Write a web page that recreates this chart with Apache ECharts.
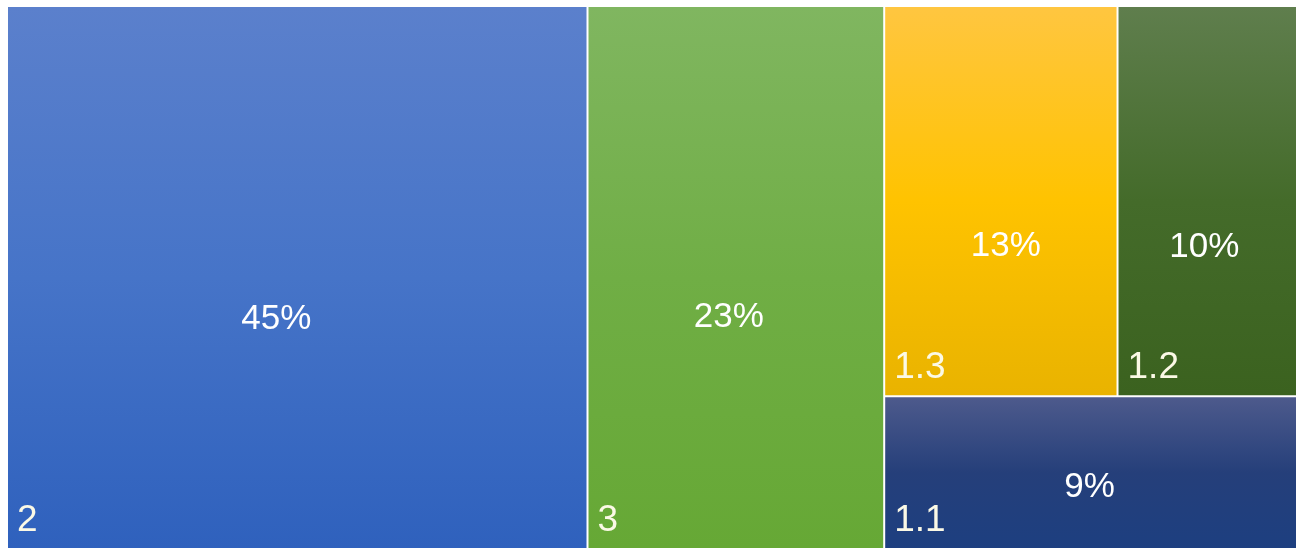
<!DOCTYPE html>
<html>
<head>
<meta charset="utf-8">
<script src="https://cdn.jsdelivr.net/npm/echarts@6/dist/echarts.min.js"></script>
<style>
html,body{margin:0;padding:0;background:#fff;}
#chart{width:1296px;height:548px;}
</style>
</head>
<body>
<div id="chart"></div>
<script>
// ---- data ----
const names   = ['2', '3', '1.3', '1.2', '1.1'];
const values  = [45, 23, 13, 10, 9];
const parents = [null, null, '1', '1', '1'];
const groupOrder = ['2', '3', '1'];

// ---- styles ----
const grad = (stops) => ({type: 'linear', x: 0, y: 0, x2: 0, y2: 1,
  colorStops: stops.map((c, i) => ({offset: i / (stops.length - 1), color: c}))});
const fills = {
  '2':   grad(['#5b80cc', '#4674c8', '#2f61bd']),
  '3':   grad(['#80b660', '#70ae45', '#66a835']),
  '1.3': grad(['#ffc640', '#ffc300', '#e9b300']),
  '1.2': grad(['#5f7e4d', '#446b2a', '#3b621f']),
  '1.1': grad(['#4d5a8c', '#253f7a', '#1d3f80'])
};
const pctOffset = {
  '2': [-21, 42], '3': [-7, 40], '1.3': [5, 45], '1.2': [-3, 46], '1.1': [-1, 15]
};

function buildTree(withStyle) {
  const nodes = {};
  const top = [];
  groupOrder.forEach(g => {
    const idx = names.indexOf(g);
    if (idx >= 0) {
      nodes[g] = {name: g, value: values[idx]};
    } else {
      nodes[g] = {name: g, children: []};
    }
    top.push(nodes[g]);
  });
  names.forEach((n, i) => {
    if (parents[i]) {
      const leaf = {name: n, value: values[i]};
      nodes[parents[i]].children.push(leaf);
    }
  });
  function decorate(node) {
    if (node.children) {
      node.value = node.children.reduce((s, c) => s + c.value, 0);
      node.children.forEach(decorate);
      return;
    }
    if (withStyle) {
      node.itemStyle = {color: fills[node.name]};
      node.label = {offset: pctOffset[node.name]};
    }
  }
  top.forEach(decorate);
  return top;
}

const baseSeries = {
  type: 'treemap',
  left: 8, top: 7, right: 0, bottom: 0,
  sort: false,
  squareRatio: 1.2,
  roam: false,
  nodeClick: false,
  breadcrumb: {show: false},
  emphasis: {disabled: true},
  upperLabel: {show: false}
};

const chart = echarts.init(document.getElementById('chart'));
chart.setOption({
  animation: false,
  series: [
    Object.assign({}, baseSeries, {
      data: buildTree(true),
      levels: [
        {itemStyle: {borderWidth: 0, gapWidth: 2, borderColor: '#ffffff'}},
        {itemStyle: {borderWidth: 0, gapWidth: 2, borderColor: '#ffffff'}},
        {itemStyle: {borderWidth: 0, gapWidth: 0, borderColor: '#ffffff'}}
      ],
      label: {
        show: true,
        position: 'inside',
        align: 'center',
        verticalAlign: 'middle',
        padding: 0,
        color: '#ffffff',
        fontFamily: 'Liberation Sans, Arial, sans-serif',
        fontSize: 35,
        formatter: p => p.value + '%'
      }
    }),
    Object.assign({}, baseSeries, {
      silent: true,
      data: buildTree(false),
      levels: [
        {itemStyle: {borderWidth: 0, gapWidth: 2, borderColor: 'rgba(0,0,0,0)', color: 'rgba(0,0,0,0)'}},
        {itemStyle: {borderWidth: 0, gapWidth: 2, borderColor: 'rgba(0,0,0,0)', color: 'rgba(0,0,0,0)'}},
        {itemStyle: {borderWidth: 0, gapWidth: 0, borderColor: 'rgba(0,0,0,0)', color: 'rgba(0,0,0,0)'}}
      ],
      label: {
        show: true,
        position: 'insideBottomLeft',
        distance: 0,
        align: 'left',
        verticalAlign: 'bottom',
        padding: [0, 0, 9, 9],
        color: '#fbf9e6',
        fontFamily: 'Liberation Sans, Arial, sans-serif',
        fontSize: 37,
        formatter: p => p.name
      }
    })
  ]
});
</script>
</body>
</html>
